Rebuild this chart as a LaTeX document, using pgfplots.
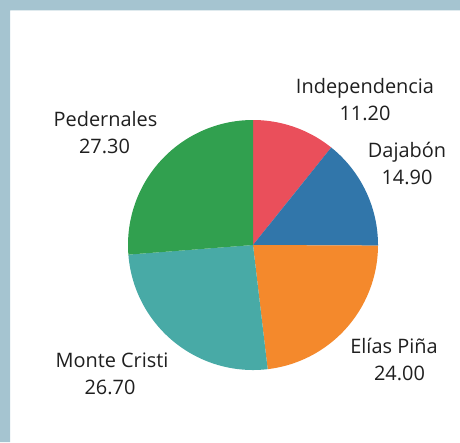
\documentclass[border=0pt]{standalone}
\usepackage{pgfplots}
\pgfplotsset{compat=1.18}
\usepackage{pgfplotstable}
\usepackage{fontspec}
\setmainfont{Open Sans}
\definecolor{cInd}{HTML}{EA4F5B}
\definecolor{cDaj}{HTML}{3176AA}
\definecolor{cEli}{HTML}{F4892C}
\definecolor{cMon}{HTML}{48AAA6}
\definecolor{cPed}{HTML}{31A04F}
\definecolor{frameblue}{HTML}{A5C4D0}
% name, value, colour, label x, label y (baseline of first line, px), name x shift
\pgfplotstableread[col sep=comma]{
name,value,col,lx,ly,nx
Independencia,11.20,cInd,365,93,365
Dajabón,14.90,cDaj,407,157,407
Elías Piña,24.00,cEli,399.5,353,394
Monte Cristi,26.70,cMon,110,367,112
Pedernales,27.30,cPed,104.5,126,105.5
}\data
\pgfplotstablegetrowsof{\data}\pgfmathtruncatemacro\nlast{\pgfplotsretval-1}
\gdef\total{0}
\foreach \i in {0,...,\nlast}{%
  \pgfplotstablegetelem{\i}{value}\of\data
  \pgfmathsetmacro\tt{\total+\pgfplotsretval}\xdef\total{\tt}}
\begin{document}
\begin{tikzpicture}
\begin{axis}[at={(0,0)},anchor=south west,
  width=460bp,height=442bp,scale only axis,
  xmin=0,xmax=460,ymin=0,ymax=442,y dir=reverse,
  hide axis,clip=false]
\addplot[draw=none,fill=white] coordinates {(0,0) (460,0) (460,442) (0,442)} -- cycle;
\addplot[draw=none,fill=frameblue] coordinates {(0,0) (460,0) (460,10.5) (10,10.5) (10,442) (0,442)} -- cycle;
\def\cum{0}
\pgfplotsforeachungrouped \i in {0,...,\nlast}{%
  \pgfplotstablegetelem{\i}{value}\of\data \let\vv\pgfplotsretval
  \pgfplotstablegetelem{\i}{col}\of\data \let\cc\pgfplotsretval
  \pgfplotstablegetelem{\i}{name}\of\data \let\nm\pgfplotsretval
  \pgfplotstablegetelem{\i}{lx}\of\data \let\lx\pgfplotsretval
  \pgfplotstablegetelem{\i}{ly}\of\data \let\ly\pgfplotsretval
  \pgfplotstablegetelem{\i}{nx}\of\data \let\nx\pgfplotsretval
  \pgfmathsetmacro\aa{90-360/\total*\cum}
  \pgfmathsetmacro\bb{90-360/\total*(\cum+\vv)}
  \pgfmathsetmacro\cum{\cum+\vv}
  \edef\tmp{\noexpand\addplot[fill=\cc,draw=none,domain=\bb:\aa,samples=90]
    ({253+125*cos(x)},{245-125*sin(x)}) -- (axis cs:253,245) -- cycle;
    \noexpand\node[overlay,anchor=base,inner sep=0pt,font=\noexpand\fontsize{20}{27}\noexpand\selectfont,
      color=black!88] at (axis cs:\nx,\ly) {\nm};
    \noexpand\node[overlay,anchor=base,inner sep=0pt,font=\noexpand\fontsize{20}{27}\noexpand\selectfont,
      color=black!88] at (axis cs:\lx,\ly+27.5) {\vv};}%
  \tmp
}
\end{axis}
\end{tikzpicture}
\end{document}
